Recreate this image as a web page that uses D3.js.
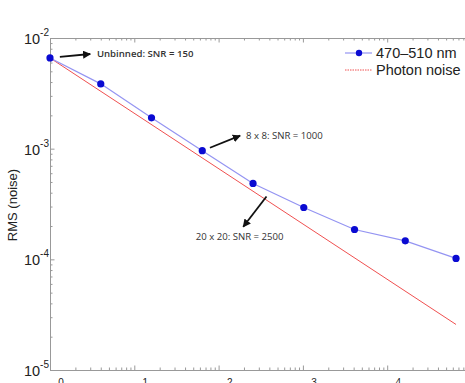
<!DOCTYPE html>
<meta charset="utf-8">
<style>
body { margin: 0; background: #fff; }
svg { font-family: "Liberation Sans", Arial, sans-serif; }
.note { font-family: "Open Sans", sans-serif; font-size: 9.6px; fill: #333; }
</style>
<body>
<svg width="465" height="383"></svg>
<script src="https://d3js.org/d3.v7.min.js"></script>
<script>

// pixels binned (1x1 ... 256x256)
var pixels = [1, 4, 16, 64, 256, 1024, 4096, 16384, 65536];
var rms = [6.6e-3, 3.85e-3, 1.9e-3, 9.6e-4, 4.85e-4, 2.94e-4, 1.86e-4, 1.47e-4, 1.02e-4];
var photonStart = 6.6e-3;   // photon noise falls as 1/sqrt(N)
var xTicks = [1, 10, 100, 1000, 10000];
var yTicks = [1e-2, 1e-3, 1e-4, 1e-5];
var seriesNames = ["470\u2013510 nm", "Photon noise"];

// annotations in data units: text pos, arrow start, arrow end
var notes = [
  { text: "Unbinned: SNR = 150", tx: 3.6, ty: 6.74e-3, x1: 1.31, y1: 6.74e-3, x2: 3.0, y2: 7.17e-3, bold: true },
  { text: "8 x 8: SNR = 1000", tx: 211, ty: 1.23e-3, x1: 79, y1: 1.02e-3, x2: 180, y2: 1.31e-3 },
  { text: "20 x 20: SNR = 2500", tx: 53.5, ty: 1.51e-4, x1: 370, y1: 3.7e-4, x2: 196, y2: 1.97e-4 }
];

var svg = d3.select("svg");
var mLeft = 50, mTop = 38, mBottom = 370, decade = 84.3;

var x = d3.scaleLog().domain([1, 1e5]).range([mLeft, mLeft + 5 * decade]);
var y = d3.scaleLog().domain([1e-5, 1e-2]).range([mBottom, mTop]);

var defs = svg.append("defs");
defs.append("marker")
    .attr("id", "arrow")
    .attr("viewBox", "0 0 10 10")
    .attr("refX", 9).attr("refY", 5)
    .attr("markerWidth", 4.5).attr("markerHeight", 4.5)
    .attr("orient", "auto")
  .append("path")
    .attr("d", "M0,0L10,5L0,10z")
    .attr("fill", "#111");

var axisColor = "#999";

// minor + major ticks
var xMinor = x.ticks(), yMinor = y.ticks();

function drawAxis(g) {
  g.selectAll("path").attr("stroke", axisColor);
  g.selectAll("line").attr("stroke", axisColor);
  g.selectAll("text").remove();
}

var bottomAxis = svg.append("g")
    .attr("transform", "translate(0," + mBottom + ")")
    .call(d3.axisBottom(x).tickValues(xMinor).tickSizeInner(-2.5).tickSizeOuter(0))
    .call(drawAxis);
bottomAxis.selectAll(".tick line").filter(function(d) { return xTicks.indexOf(d) >= 0; }).attr("y2", -4.5);

var topAxis = svg.append("g")
    .attr("transform", "translate(0," + mTop + ")")
    .call(d3.axisTop(x).tickValues(xMinor).tickSizeInner(-2.5).tickSizeOuter(0))
    .call(drawAxis);
topAxis.selectAll(".tick line").filter(function(d) { return xTicks.indexOf(d) >= 0; }).attr("y2", 4.5);

var leftAxis = svg.append("g")
    .attr("transform", "translate(" + mLeft + ",0)")
    .call(d3.axisLeft(y).tickValues(yMinor).tickSizeInner(-2.5).tickSizeOuter(0))
    .call(drawAxis);
leftAxis.selectAll(".tick line").filter(function(d) { return yTicks.indexOf(d) >= 0; }).attr("x2", 4.5);

// tick labels as 10^n
function powLabel(sel) {
  sel.each(function(d) {
    var t = d3.select(this);
    t.append("tspan").text("10");
    t.append("tspan").attr("font-size", 10).attr("dy", -8).text(Math.round(Math.log10(d)));
  });
}

svg.append("g").selectAll("text")
  .data(yTicks)
  .enter().append("text")
    .attr("x", mLeft - 1)
    .attr("y", function(d) { return y(d) + 6; })
    .attr("text-anchor", "end")
    .attr("font-size", 14.5)
    .attr("fill", "#222")
    .call(powLabel);

svg.append("g").selectAll("text")
  .data(xTicks)
  .enter().append("text")
    .attr("x", function(d) { return x(d) + 3; })
    .attr("y", mBottom + 24)
    .attr("text-anchor", "middle")
    .attr("font-size", 14.5)
    .attr("fill", "#222")
    .call(powLabel);

svg.append("text")
    .attr("transform", "translate(17," + ((mTop + mBottom) / 2 + 1) + ") rotate(-90)")
    .attr("text-anchor", "middle")
    .attr("font-size", 13)
    .attr("fill", "#222")
    .text("RMS (noise)");

// photon noise line
svg.append("line")
    .attr("x1", x(pixels[0])).attr("y1", y(photonStart))
    .attr("x2", x(pixels[pixels.length - 1]))
    .attr("y2", y(photonStart / Math.sqrt(pixels[pixels.length - 1])))
    .attr("stroke", "#f05050")
    .attr("stroke-width", 1);

// measured series
var line = d3.line()
    .x(function(d, i) { return x(pixels[i]); })
    .y(function(d) { return y(d); });

svg.append("path")
    .datum(rms)
    .attr("d", line)
    .attr("fill", "none")
    .attr("stroke", "#9494f2")
    .attr("stroke-width", 1.2);

svg.append("g").selectAll("circle")
  .data(rms)
  .enter().append("circle")
    .attr("cx", function(d, i) { return x(pixels[i]); })
    .attr("cy", function(d) { return y(d); })
    .attr("r", 3.6)
    .attr("fill", "#0a0ad2");

// annotations
var ng = svg.append("g");
notes.forEach(function(n) {
  ng.append("line")
      .attr("x1", x(n.x1)).attr("y1", y(n.y1))
      .attr("x2", x(n.x2)).attr("y2", y(n.y2))
      .attr("stroke", "#111")
      .attr("stroke-width", 1.8)
      .attr("marker-end", "url(#arrow)");
  ng.append("text")
      .attr("class", "note")
      .attr("x", x(n.tx)).attr("y", y(n.ty))
      .attr("font-weight", n.bold ? "600" : null)
      .text(n.text);
});

// legend
var legend = svg.append("g").attr("transform", "translate(345,53)");
legend.append("line").attr("x1", 0).attr("x2", 27).attr("stroke", "#9494f2").attr("stroke-width", 1.2);
legend.append("circle").attr("cx", 14).attr("r", 3.2).attr("fill", "#0a0ad2");
legend.append("line").attr("x1", 0).attr("x2", 27).attr("y1", 17).attr("y2", 17)
    .attr("stroke", "#f05050").attr("stroke-width", 1).attr("stroke-dasharray", "1.5,1");
legend.selectAll("text")
  .data(seriesNames)
  .enter().append("text")
    .attr("x", 31)
    .attr("y", function(d, i) { return 5 + i * 17; })
    .attr("font-size", 14.5)
    .attr("fill", "#222")
    .text(function(d) { return d; });

</script>
</body>
